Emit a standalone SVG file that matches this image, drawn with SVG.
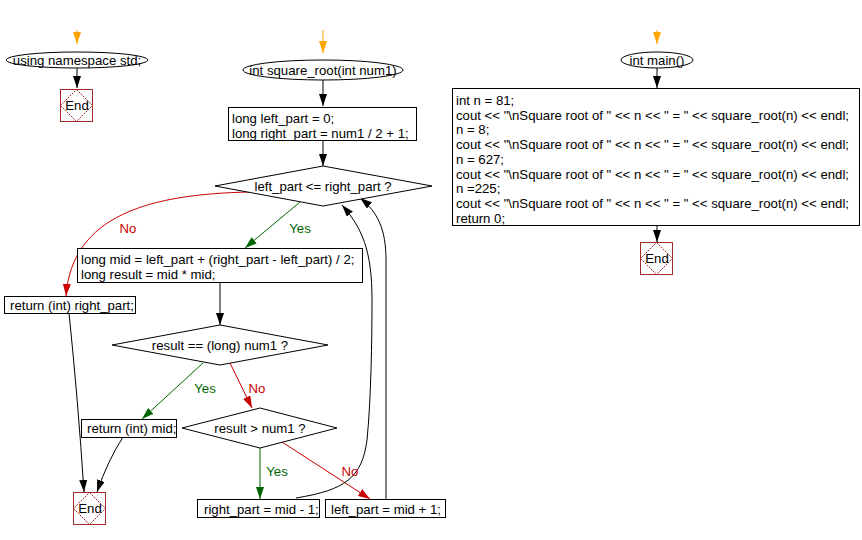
<svg xmlns="http://www.w3.org/2000/svg" width="862" height="540" viewBox="0 0 862 540">
<style>
text{font-family:"Liberation Sans",Arial,sans-serif;font-size:13.2px;fill:#000}
.c{text-anchor:middle}
.box{fill:#fff;stroke:#000;stroke-width:1}
.endbox{fill:#fff;stroke:#A52A2A;stroke-width:1}
.enddia{fill:none;stroke:#A52A2A;stroke-width:1;stroke-dasharray:2,1}
.k{fill:none;stroke:#000;stroke-width:1}
.g{fill:none;stroke:#006400;stroke-width:1}
.r{fill:none;stroke:#CC0000;stroke-width:1}
.o{fill:none;stroke:#FFA500;stroke-width:1}
.gt{fill:#006400}
.rt{fill:#CC0000}
</style>
<defs>
<marker id="ak" viewBox="0 0 12 8" refX="12" refY="4" markerWidth="12" markerHeight="8" markerUnits="userSpaceOnUse" orient="auto"><path d="M0,0 L12,4 L0,8 z" fill="#000"/></marker>
<marker id="ag" viewBox="0 0 12 8" refX="12" refY="4" markerWidth="12" markerHeight="8" markerUnits="userSpaceOnUse" orient="auto"><path d="M0,0 L12,4 L0,8 z" fill="#006400"/></marker>
<marker id="ar" viewBox="0 0 12 8" refX="12" refY="4" markerWidth="12" markerHeight="8" markerUnits="userSpaceOnUse" orient="auto"><path d="M0,0 L12,4 L0,8 z" fill="#CC0000"/></marker>
<marker id="ao" viewBox="0 0 12 8" refX="12" refY="4" markerWidth="12" markerHeight="8" markerUnits="userSpaceOnUse" orient="auto"><path d="M0,0 L12,4 L0,8 z" fill="#FFA500"/></marker>
</defs>

<g id="connectors">
<path class="o" d="M77,30 L77,44" marker-end="url(#ao)"/>
<path class="k" d="M77,68 L77,88" marker-end="url(#ak)"/>
<path class="o" d="M323,30 L323,53" marker-end="url(#ao)"/>
<path class="k" d="M323,80 L323,106" marker-end="url(#ak)"/>
<path class="k" d="M323,141 L323,166" marker-end="url(#ak)"/>
<path class="g" d="M300,202 L245,248" marker-end="url(#ag)"/>
<path class="r" d="M250,192 C150,194 72,215 66,296" marker-end="url(#ar)"/>
<path class="k" d="M220,283 L220,325" marker-end="url(#ak)"/>
<path class="g" d="M203,363 L142,419" marker-end="url(#ag)"/>
<path class="r" d="M230,363 L252,408" marker-end="url(#ar)"/>
<path class="g" d="M260,448 L260,499" marker-end="url(#ag)"/>
<path class="r" d="M282,442 L370,499" marker-end="url(#ar)"/>
<path class="k" d="M69,313 Q78,400 84,492" marker-end="url(#ak)"/>
<path class="k" d="M123,437 Q108,460 97,492" marker-end="url(#ak)"/>
<path class="k" d="M296,498 C345,490 362,478 367,440 C371,400 372,340 372,300 C372,250 362,228 342,205" marker-end="url(#ak)"/>
<path class="k" d="M386,499 L386,260 C386,230 378,212 360,198" marker-end="url(#ak)"/>
<path class="o" d="M657,30 L657,44" marker-end="url(#ao)"/>
<path class="k" d="M657,68 L657,88" marker-end="url(#ak)"/>
<path class="k" d="M657,226 L657,242" marker-end="url(#ak)"/>
</g>
<g id="labels">
<text class="c gt" x="300" y="233">Yes</text>
<text class="c rt" x="128" y="233">No</text>
<text class="c gt" x="205" y="393">Yes</text>
<text class="c rt" x="257" y="393">No</text>
<text class="c gt" x="277" y="476">Yes</text>
<text class="c rt" x="350" y="476">No</text>
</g>

<g id="n_using">
<ellipse class="box" cx="77" cy="60" rx="71" ry="8"/>
<text class="c" x="77" y="65">using namespace std;</text>
</g>
<g id="n_end1">
<rect class="endbox" x="60.5" y="89.5" width="32" height="32"/>
<path class="enddia" d="M76.5,89.5 L92.5,105.5 L76.5,121.5 L60.5,105.5 z"/>
<text class="c" x="77" y="110">End</text>
</g>

<g id="n_sqrt">
<ellipse class="box" cx="323" cy="70" rx="80" ry="10"/>
<text class="c" x="323" y="75">int square_root(int num1)</text>
</g>
<g id="n_init">
<rect class="box" x="228.5" y="107.5" width="188" height="33"/>
<text x="232" y="123">long left_part = 0;</text>
<text x="232" y="138">long right_part = num1 / 2 + 1;</text>
</g>
<g id="n_while">
<polygon class="box" points="323,166 432,186 323,206 215,186"/>
<text class="c" x="323" y="191">left_part &lt;= right_part ?</text>
</g>
<g id="n_mid">
<rect class="box" x="77.5" y="248.5" width="285" height="34"/>
<text x="81" y="264">long mid = left_part + (right_part - left_part) / 2;</text>
<text x="81" y="279">long result = mid * mid;</text>
</g>
<g id="n_retright">
<rect class="box" x="4.5" y="296.5" width="131" height="17"/>
<text x="10" y="310">return (int) right_part;</text>
</g>
<g id="n_eq">
<polygon class="box" points="220,325 328,345 220,365 112,345"/>
<text class="c" x="220" y="350">result == (long) num1 ?</text>
</g>
<g id="n_retmid">
<rect class="box" x="81.5" y="419.5" width="95" height="18"/>
<text x="87" y="433">return (int) mid;</text>
</g>
<g id="n_gt">
<polygon class="box" points="260,408 337,428 260,448 182,428"/>
<text class="c" x="260" y="433">result &gt; num1 ?</text>
</g>
<g id="n_end2">
<rect class="endbox" x="73.5" y="492.5" width="32" height="32"/>
<path class="enddia" d="M89.5,492.5 L105.5,508.5 L89.5,524.5 L73.5,508.5 z"/>
<text class="c" x="90" y="513">End</text>
</g>
<g id="n_rightpart">
<rect class="box" x="197.5" y="499.5" width="122" height="18"/>
<text x="204" y="514">right_part = mid - 1;</text>
</g>
<g id="n_leftpart">
<rect class="box" x="325.5" y="499.5" width="120" height="18"/>
<text x="331" y="514">left_part = mid + 1;</text>
</g>

<g id="n_main">
<ellipse class="box" cx="657" cy="60" rx="36" ry="8"/>
<text class="c" x="657" y="65">int main()</text>
</g>
<g id="n_body">
<rect class="box" x="452.5" y="88.5" width="407" height="137"/>
<text x="456" y="105">int n = 81;</text>
<text x="456" y="119.7">cout &lt;&lt; "\nSquare root of " &lt;&lt; n &lt;&lt; " = " &lt;&lt; square_root(n) &lt;&lt; endl;</text>
<text x="456" y="134.4">n = 8;</text>
<text x="456" y="149.1">cout &lt;&lt; "\nSquare root of " &lt;&lt; n &lt;&lt; " = " &lt;&lt; square_root(n) &lt;&lt; endl;</text>
<text x="456" y="163.8">n = 627;</text>
<text x="456" y="178.5">cout &lt;&lt; "\nSquare root of " &lt;&lt; n &lt;&lt; " = " &lt;&lt; square_root(n) &lt;&lt; endl;</text>
<text x="456" y="193.2">n =225;</text>
<text x="456" y="207.9">cout &lt;&lt; "\nSquare root of " &lt;&lt; n &lt;&lt; " = " &lt;&lt; square_root(n) &lt;&lt; endl;</text>
<text x="456" y="222.6">return 0;</text>
</g>
<g id="n_end3">
<rect class="endbox" x="640.5" y="242.5" width="32" height="32"/>
<path class="enddia" d="M656.5,242.5 L672.5,258.5 L656.5,274.5 L640.5,258.5 z"/>
<text class="c" x="657" y="263">End</text>
</g>
</svg>
